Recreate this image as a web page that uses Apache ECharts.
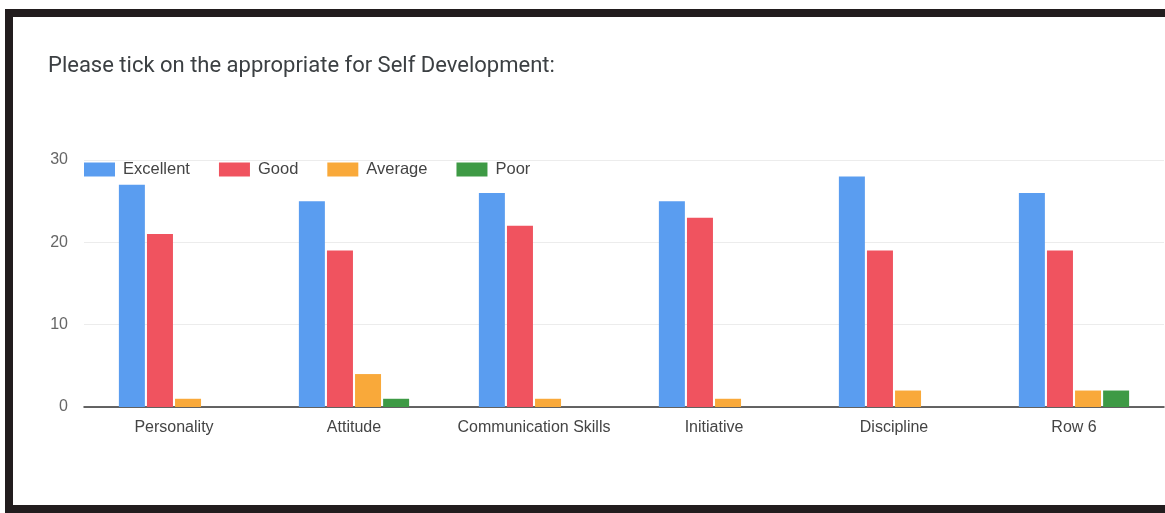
<!DOCTYPE html>
<html>
<head>
<meta charset="utf-8">
<script src="https://cdn.jsdelivr.net/npm/echarts@6/dist/echarts.min.js"></script>
<style>
  html, body { margin: 0; padding: 0; background: #fff; }
  #chart { position: absolute; left: 0; top: 0; width: 1165px; height: 513px; }
  #frame {
    position: absolute; left: 5px; top: 9px; width: 1170px; height: 488px;
    border-left: 8px solid #221d1e; border-top: 8px solid #221d1e; border-bottom: 8px solid #221d1e;
    pointer-events: none;
  }
</style>
</head>
<body>
<div id="chart"></div>
<div id="frame"></div>
<script>
// categories and answer counts
var categories = ["Personality", "Attitude", "Communication Skills", "Initiative", "Discipline", "Row 6"];
var excellent = [27, 25, 26, 25, 28, 26];
var good = [21, 19, 22, 23, 19, 19];
var average = [1, 4, 1, 1, 2, 2];
var poor = [0, 1, 0, 0, 0, 2];
var seriesNames = ["Excellent", "Good", "Average", "Poor"];
var yTicks = [0, 10, 20, 30];

var chart = echarts.init(document.getElementById('chart'));

function bar(name, values) {
    return {
        name: name,
        type: 'bar',
        data: values,
        barWidth: 26,
        barGap: '8%'
    };
}

var option = {
    animation: false,
    color: ["#5a9df0", "#f0535f", "#f9a93a", "#3e9a45"],
    title: {
        text: "Please tick on the appropriate for Self Development:",
        left: 43,
        top: 50,
        textStyle: {
            fontFamily: 'Roboto',
            fontWeight: 'normal',
            fontSize: 22,
            color: '#3c4043'
        }
    },
    legend: {
        data: seriesNames,
        left: 79,
        top: 156,
        icon: 'rect',
        itemWidth: 31,
        itemHeight: 14,
        itemGap: 29,
        textStyle: {
            fontFamily: 'Arial',
            fontSize: 16.5,
            color: '#444',
            padding: [0, 0, 0, 3]
        }
    },
    grid: {
        left: 84,
        right: 1,
        top: 160,
        bottom: 106,
        containLabel: false
    },
    xAxis: {
        type: 'category',
        data: categories,
        axisTick: { show: false },
        axisLine: { lineStyle: { color: '#333', width: 1.5 } },
        axisLabel: {
            interval: 0,
            margin: 13,
            fontFamily: 'Arial',
            fontSize: 16,
            color: '#444'
        }
    },
    yAxis: {
        type: 'value',
        min: yTicks[0],
        max: yTicks[yTicks.length - 1],
        interval: 10,
        axisLine: { show: false },
        axisTick: { show: false },
        splitLine: { lineStyle: { color: '#ececec' } },
        axisLabel: {
            margin: 16,
            fontFamily: 'Arial',
            fontSize: 16,
            color: '#666'
        }
    },
    series: [
        bar(seriesNames[0], excellent),
        bar(seriesNames[1], good),
        bar(seriesNames[2], average),
        bar(seriesNames[3], poor)
    ]
};
chart.setOption(option);
</script>
</body>
</html>
